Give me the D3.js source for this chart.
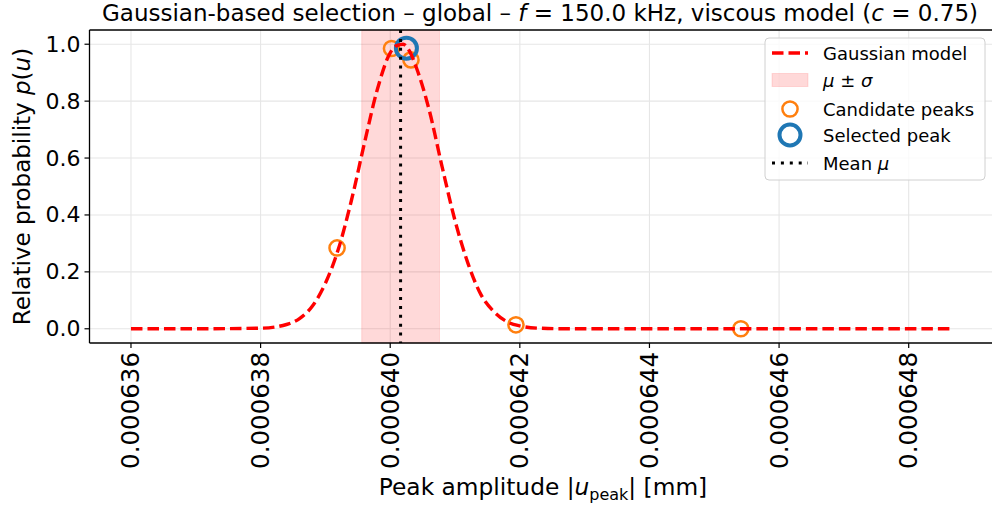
<!DOCTYPE html>
<html>
<head>
<meta charset="utf-8">
<script src="https://cdn.jsdelivr.net/npm/d3@7/dist/d3.min.js"></script>
<style>
  body { margin: 0; background: #fff; }
  svg text { font-family: "DejaVu Sans", sans-serif; fill: #000; }
</style>
</head>
<body>
<svg id="viz"></svg>
<script>
// Gaussian selection plot

const curveX = [0.000636, 0.000637, 0.000638, 0.0006384, 0.0006386, 0.0006388, 0.000639,
    0.0006392, 0.0006394, 0.0006396, 0.0006398, 0.00064, 0.0006401, 0.0006402, 0.0006403,
    0.0006404, 0.0006406, 0.0006408, 0.000641, 0.0006412, 0.0006414, 0.0006416, 0.0006418,
    0.000642, 0.0006423, 0.0006427, 0.000643, 0.000645, 0.000647, 0.0006487];
const curveY = [0, 0, 0.002, 0.015, 0.036, 0.08, 0.16,
    0.28, 0.45, 0.65, 0.84, 0.97, 0.995, 1.0, 0.975,
    0.92, 0.77, 0.57, 0.38, 0.23, 0.12, 0.06, 0.025,
    0.01, 0.002, 0, 0, 0, 0, 0];

const candX = [0.00063918, 0.00064002, 0.00064032, 0.00064194, 0.00064541];
const candY = [0.284, 0.985, 0.945, 0.014, 0.0];

const selX = [0.00064025];
const selY = [0.986];

const mu = 0.00064016;
const sigma = 0.0000006;

const xTicks = [0.000636, 0.000638, 0.00064, 0.000642, 0.000644, 0.000646, 0.000648];
const xTickLabels = ['0.000636', '0.000638', '0.000640', '0.000642', '0.000644', '0.000646', '0.000648'];
const yTicks = [0, 0.2, 0.4, 0.6, 0.8, 1.0];
const yTickLabels = ['0.0', '0.2', '0.4', '0.6', '0.8', '1.0'];

const width = 992;
const height = 506;
const plotLeft = 89.5, plotRight = 992.5, plotTop = 30, plotBottom = 343;

const svg = d3.select('#viz').attr('width', width).attr('height', height);

const x = d3.scaleLinear().domain([0.00063536, 0.00064927]).range([plotLeft, 991]);
const y = d3.scaleLinear().domain([-0.05, 1.05]).range([plotBottom, plotTop]);

// grid
const grid = svg.append('g');
grid.selectAll('.gx').data(xTicks).enter().append('line')
    .attr('x1', d => x(d)).attr('x2', d => x(d))
    .attr('y1', plotTop).attr('y2', plotBottom)
    .attr('stroke', '#e6e6e6').attr('stroke-width', 1.1);
grid.selectAll('.gy').data(yTicks).enter().append('line')
    .attr('x1', plotLeft).attr('x2', plotRight)
    .attr('y1', d => y(d)).attr('y2', d => y(d))
    .attr('stroke', '#e6e6e6').attr('stroke-width', 1.1);

// mu +- sigma band
svg.append('rect')
    .attr('x', x(mu - sigma)).attr('y', plotTop)
    .attr('width', x(mu + sigma) - x(mu - sigma)).attr('height', plotBottom - plotTop)
    .attr('fill', 'rgba(255,0,0,0.15)')
    .attr('stroke', 'rgba(255,0,0,0.12)').attr('stroke-width', 1);

// candidates and selected
svg.append('g').selectAll('circle').data(candX).enter().append('circle')
    .attr('cx', d => x(d)).attr('cy', (d, i) => y(candY[i]))
    .attr('r', 7.6).attr('fill', 'none')
    .attr('stroke', '#ff7f0e').attr('stroke-width', 2.5);

svg.append('g').selectAll('circle').data(selX).enter().append('circle')
    .attr('cx', d => x(d)).attr('cy', (d, i) => y(selY[i]))
    .attr('r', 10.5).attr('fill', 'none')
    .attr('stroke', '#1f77b4').attr('stroke-width', 4);

// gaussian curve
const line = d3.line()
    .x((d, i) => x(d))
    .y((d, i) => y(curveY[i]))
    .curve(d3.curveMonotoneX);

svg.append('path')
    .datum(curveX)
    .attr('d', line)
    .attr('fill', 'none')
    .attr('stroke', '#ff0000')
    .attr('stroke-width', 3.4)
    .attr('stroke-dasharray', '11.5,5');

// mean line
svg.append('line')
    .attr('x1', x(mu)).attr('x2', x(mu))
    .attr('y1', plotTop).attr('y2', plotBottom)
    .attr('stroke', '#000').attr('stroke-width', 3)
    .attr('stroke-dasharray', '3,5.9');

// spines
const spines = svg.append('g').attr('stroke', '#000').attr('stroke-width', 1.3);
spines.append('line').attr('x1', plotLeft).attr('x2', plotLeft).attr('y1', plotTop).attr('y2', plotBottom);
spines.append('line').attr('x1', plotLeft).attr('x2', plotRight).attr('y1', plotBottom).attr('y2', plotBottom);
spines.append('line').attr('x1', plotLeft).attr('x2', plotRight).attr('y1', plotTop).attr('y2', plotTop);

// x ticks
const xt = svg.append('g').selectAll('g').data(xTicks).enter().append('g')
    .attr('transform', d => `translate(${x(d)},${plotBottom})`);
xt.append('line').attr('y1', 0).attr('y2', 5).attr('stroke', '#000').attr('stroke-width', 1.2);
xt.append('text')
    .attr('transform', 'translate(0,9) rotate(-90)')
    .attr('text-anchor', 'end')
    .attr('dominant-baseline', 'central')
    .style('font-size', '24.5px')
    .text((d, i) => xTickLabels[i]);

// y ticks
const yt = svg.append('g').selectAll('g').data(yTicks).enter().append('g')
    .attr('transform', d => `translate(${plotLeft},${y(d)})`);
yt.append('line').attr('x1', 0).attr('x2', -5).attr('stroke', '#000').attr('stroke-width', 1.2);
yt.append('text')
    .attr('x', -9)
    .attr('text-anchor', 'end')
    .attr('dominant-baseline', 'central')
    .style('font-size', '22px')
    .text((d, i) => yTickLabels[i]);

// title
const title = svg.append('text')
    .attr('x', 540).attr('y', 21)
    .attr('text-anchor', 'middle')
    .style('font-size', '23px');
title.append('tspan').text('Gaussian-based selection – global – ');
title.append('tspan').style('font-style', 'italic').text('f');
title.append('tspan').text(' = 150.0 kHz, viscous model (');
title.append('tspan').style('font-style', 'italic').text('c');
title.append('tspan').text(' = 0.75)');

// x label
const xl = svg.append('text')
    .attr('x', 543).attr('y', 495)
    .attr('text-anchor', 'middle')
    .style('font-size', '23.3px');
xl.append('tspan').text('Peak amplitude |');
xl.append('tspan').style('font-style', 'italic').text('u');
xl.append('tspan').attr('dy', 5).style('font-size', '16px').text('peak');
xl.append('tspan').attr('dy', -5).text('| [mm]');

// y label
const yl = svg.append('text')
    .attr('transform', `translate(30,${(plotTop + plotBottom) / 2}) rotate(-90)`)
    .attr('text-anchor', 'middle')
    .style('font-size', '23px');
yl.append('tspan').text('Relative probability ');
yl.append('tspan').style('font-style', 'italic').text('p');
yl.append('tspan').text('(');
yl.append('tspan').style('font-style', 'italic').text('u');
yl.append('tspan').text(')');

// legend
const lg = svg.append('g').attr('transform', 'translate(765,38)');
lg.append('rect')
    .attr('width', 220).attr('height', 142).attr('rx', 4)
    .attr('fill', 'rgba(255,255,255,0.8)')
    .attr('stroke', '#d0d0d0').attr('stroke-width', 1);

const rowY = [15, 42, 71, 97, 125];
const hx0 = 7, hx1 = 43, tx = 58;

lg.append('line').attr('x1', hx0).attr('x2', hx1).attr('y1', rowY[0]).attr('y2', rowY[0])
    .attr('stroke', '#ff0000').attr('stroke-width', 3.4).attr('stroke-dasharray', '11.5,5');
lg.append('rect').attr('x', hx0).attr('y', rowY[1] - 6.5).attr('width', hx1 - hx0).attr('height', 13)
    .attr('fill', 'rgba(255,0,0,0.15)').attr('stroke', 'rgba(255,0,0,0.12)');
lg.append('circle').attr('cx', (hx0 + hx1) / 2).attr('cy', rowY[2]).attr('r', 7.6)
    .attr('fill', 'none').attr('stroke', '#ff7f0e').attr('stroke-width', 2.5);
lg.append('circle').attr('cx', (hx0 + hx1) / 2).attr('cy', rowY[3]).attr('r', 10.5)
    .attr('fill', 'none').attr('stroke', '#1f77b4').attr('stroke-width', 4);
lg.append('line').attr('x1', hx0).attr('x2', hx1).attr('y1', rowY[4]).attr('y2', rowY[4])
    .attr('stroke', '#000').attr('stroke-width', 3).attr('stroke-dasharray', '3,5.9');

const labels = [
    [['Gaussian model', false]],
    [['μ', true], [' ± ', false], ['σ', true]],
    [['Candidate peaks', false]],
    [['Selected peak', false]],
    [['Mean ', false], ['μ', true]]
];
labels.forEach((parts, i) => {
    const t = lg.append('text')
        .attr('x', tx).attr('y', rowY[i])
        .attr('dominant-baseline', 'central')
        .style('font-size', '18px');
    parts.forEach(p => {
        t.append('tspan').style('font-style', p[1] ? 'italic' : 'normal').text(p[0]);
    });
});
</script>
</body>
</html>
